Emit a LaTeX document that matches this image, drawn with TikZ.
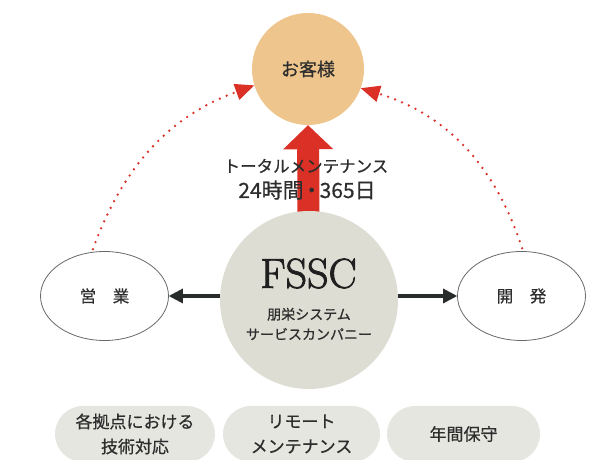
\documentclass[tikz,border=0pt]{standalone}
\usepackage{fontspec}
\newfontfamily\jp{Noto Sans CJK JP}[FakeBold=0.6]
\newfontfamily\fsscfont{Latin Modern Roman}[FakeBold=2]
\usetikzlibrary{arrows.meta,shapes.geometric,backgrounds}
\definecolor{custc}{RGB}{238,197,140}
\definecolor{redc}{RGB}{218,48,38}
\definecolor{fsscc}{RGB}{221,221,211}
\definecolor{pillc}{RGB}{230,230,224}
\definecolor{txt}{RGB}{45,45,45}
\definecolor{edgec}{RGB}{105,105,105}
\definecolor{arrowk}{RGB}{40,44,42}
\begin{document}
\begin{tikzpicture}[x=1pt,y=1pt,
  ellbox/.style={ellipse, draw=edgec, line width=0.8pt, fill=white, inner sep=0,
    minimum width=128pt, minimum height=89pt, text=txt, font=\jp\fontsize{16.5}{19}\selectfont},
  pill/.style={rectangle, rounded corners=28pt, fill=pillc, inner sep=0, minimum height=56pt,
    align=center, text=txt, font=\jp\fontsize{17}{25}\selectfont},
  blackarrow/.style={draw=arrowk, line width=4.5pt, -{Triangle[length=14pt,width=15pt,line width=0pt]}},
  dotarc/.style={draw=redc, line width=2.6pt, dash pattern=on 0pt off 7.5pt, line cap=round,
    -{Triangle[length=19pt,width=17pt,line width=0pt]}}]
\useasboundingbox (0,0) rectangle (602,460);

% customer
\node[circle, fill=custc, minimum size=112pt, inner sep=0, text=txt,
  font=\jp\fontsize{18}{21}\selectfont] (cust) at (308,391) {お客様};

% FSSC circle
\node[circle, fill=fsscc, minimum size=178pt, inner sep=0] (fssc) at (309,160) {};
\node[font=\fsscfont\fontsize{42}{42}\selectfont, text=black!88, inner sep=0] (fsscT) at (308.5,186.5) {FSSC};
\node[align=center, text=txt, font=\jp\fontsize{14}{20}\selectfont, inner sep=0] (fsscS) at (309,136) {朋栄システム\\サービスカンパニー};

% big red arrow
\begin{scope}[on background layer]
\draw[redc, line width=22pt, -{Triangle[length=24pt,width=50pt,line width=0pt]}] (fssc.center) -- (cust.south);
\end{scope}

% labels on the red arrow
\node[text=txt, font=\jp\fontsize{16.5}{20}\selectfont, inner sep=0] (lab1) at (306,294) {トータルメンテナンス};
\node[text=txt, font=\jp\fontsize{21}{24}\selectfont, inner sep=0] (lab2) at (307,270) {24時間\kern-2.5pt・\kern-2.5pt365日};

% side ellipses
\node[ellbox] (sales) at (104.5,164) {営　業};
\node[ellbox] (dev) at (521.5,164) {開　発};

\draw[blackarrow] (fssc.west |- sales.center) -- (sales.east);
\draw[blackarrow] (fssc.east |- dev.center) -- (dev.west);

% dotted arcs
\draw[dotarc, shorten <=3pt] (sales.106) to[out=70,in=200] (cust.197);
\draw[dotarc, shorten <=3pt] (dev.88) to[out=108,in=-17] (cust.340);

% pills
\begin{scope}
\clip (0,0) rectangle (602,460);
\node[pill, minimum width=160pt] (p1) at (135,26) {各拠点における\\技術対応};
\node[pill, minimum width=157pt] (p2) at (301.5,26) {リモート\\メンテナンス};
\node[pill, minimum width=153pt] (p3) at (463.5,26) {年間保守};
\end{scope}
\end{tikzpicture}
\end{document}
